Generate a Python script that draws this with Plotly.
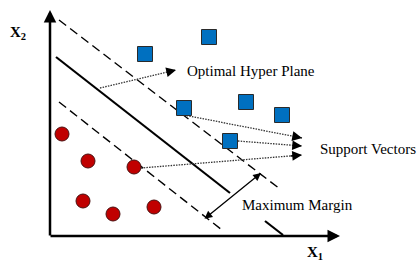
import plotly.graph_objects as go

# ---- data (diagram coordinates, pixel-like space: x right, y down) ----
class_a_x = [145, 209, 184, 246, 282, 230]   # blue squares
class_a_y = [54, 37, 108, 102, 115, 141]
class_b_x = [62, 88, 134, 83, 113, 154]      # red circles
class_b_y = [134, 161, 167, 201, 214, 207]

hyper_x = [56, 230, None, 265, 283]          # optimal hyperplane (solid)
hyper_y = [57, 193, None, 221, 235]
margin_up_x = [59, 280]                       # upper margin (dashed)
margin_up_y = [20, 189]
margin_lo_x = [59, 222]                       # lower margin (dashed)
margin_lo_y = [102, 230]

plane_ptr_x = [100, 176]                      # pointer to hyperplane label
plane_ptr_y = [88, 70]
sv_ptr_x = [[184, 302], [238, 302], [141, 302]]
sv_ptr_y = [[115, 138], [141, 146], [168, 155]]

labels = ["Optimal Hyper Plane", "Support Vectors", "Maximum Margin"]
label_x = [185, 318, 240]
label_y = [71, 149, 205]

W, H = 418, 262
serif = "Liberation Serif"

fig = go.Figure()

# dashed margins
for xs, ys in [(margin_up_x, margin_up_y), (margin_lo_x, margin_lo_y)]:
    fig.add_trace(go.Scatter(x=xs, y=ys, mode="lines",
                             line=dict(color="black", width=1.4, dash="9px,5px"),
                             hoverinfo="skip"))
# hyperplane
fig.add_trace(go.Scatter(x=hyper_x, y=hyper_y, mode="lines",
                         line=dict(color="black", width=2.2), hoverinfo="skip"))

# dotted pointers with arrowheads
for xs, ys in [(plane_ptr_x, plane_ptr_y)] + list(zip(sv_ptr_x, sv_ptr_y)):
    fig.add_trace(go.Scatter(x=xs, y=ys, mode="lines",
                             line=dict(color="#333333", width=1.3, dash="1.5px,1.2px"),
                             hoverinfo="skip"))
    fig.add_annotation(x=xs[-1], y=ys[-1], ax=xs[-1] - (xs[-1] - xs[0]) * 0.08,
                       ay=ys[-1] - (ys[-1] - ys[0]) * 0.08,
                       xref="x", yref="y", axref="x", ayref="y",
                       showarrow=True, arrowhead=2, arrowsize=1.3, arrowwidth=1.5,
                       arrowcolor="black", text="")

# points
fig.add_trace(go.Scatter(x=class_a_x, y=class_a_y, mode="markers",
                         marker=dict(symbol="square", size=15, color="#0070C0",
                                     line=dict(color="#2a2a2a", width=1)),
                         hoverinfo="skip"))
fig.add_trace(go.Scatter(x=class_b_x, y=class_b_y, mode="markers",
                         marker=dict(symbol="circle", size=14, color="#C00000",
                                     line=dict(color="#4a1010", width=1)),
                         hoverinfo="skip"))

# axes with arrows
fig.add_annotation(x=50, y=10, ax=50, ay=237, xref="x", yref="y", axref="x", ayref="y",
                   showarrow=True, arrowhead=2, arrowsize=1, arrowwidth=2.5,
                   arrowcolor="black", text="")
fig.add_annotation(x=340, y=236, ax=49, ay=236, xref="x", yref="y", axref="x", ayref="y",
                   showarrow=True, arrowhead=2, arrowsize=1, arrowwidth=2.5,
                   arrowcolor="black", text="")

# maximum margin double arrow
fig.add_annotation(x=261, y=173, ax=203, ay=220, xref="x", yref="y", axref="x", ayref="y",
                   showarrow=True, arrowhead=2, startarrowhead=2, arrowside="end+start",
                   arrowsize=1.2, startarrowsize=1.2, arrowwidth=1.3,
                   arrowcolor="black", text="")

# labels
for t, lx, ly in zip(labels, label_x, label_y):
    fig.add_annotation(x=lx, y=ly, text=t, showarrow=False, xanchor="left", yanchor="middle",
                       font=dict(family=serif, size=15, color="black"))

fig.add_annotation(x=8, y=33, text="<b>X</b><sub><b>2</b></sub>", showarrow=False,
                   xanchor="left", yanchor="middle",
                   font=dict(family=serif, size=15, color="black"))
fig.add_annotation(x=305, y=253, text="<b>X</b><sub><b>1</b></sub>", showarrow=False,
                   xanchor="left", yanchor="middle",
                   font=dict(family=serif, size=15, color="black"))

fig.update_layout(width=W, height=H, margin=dict(l=0, r=0, t=0, b=0),
                  paper_bgcolor="white", plot_bgcolor="white", showlegend=False,
                  xaxis=dict(range=[0, W], visible=False, fixedrange=True),
                  yaxis=dict(range=[H, 0], visible=False, fixedrange=True))

fig.write_html("out.html", config={"displayModeBar": False},
               post_script="document.body.style.margin='0';document.body.style.padding='0';")
